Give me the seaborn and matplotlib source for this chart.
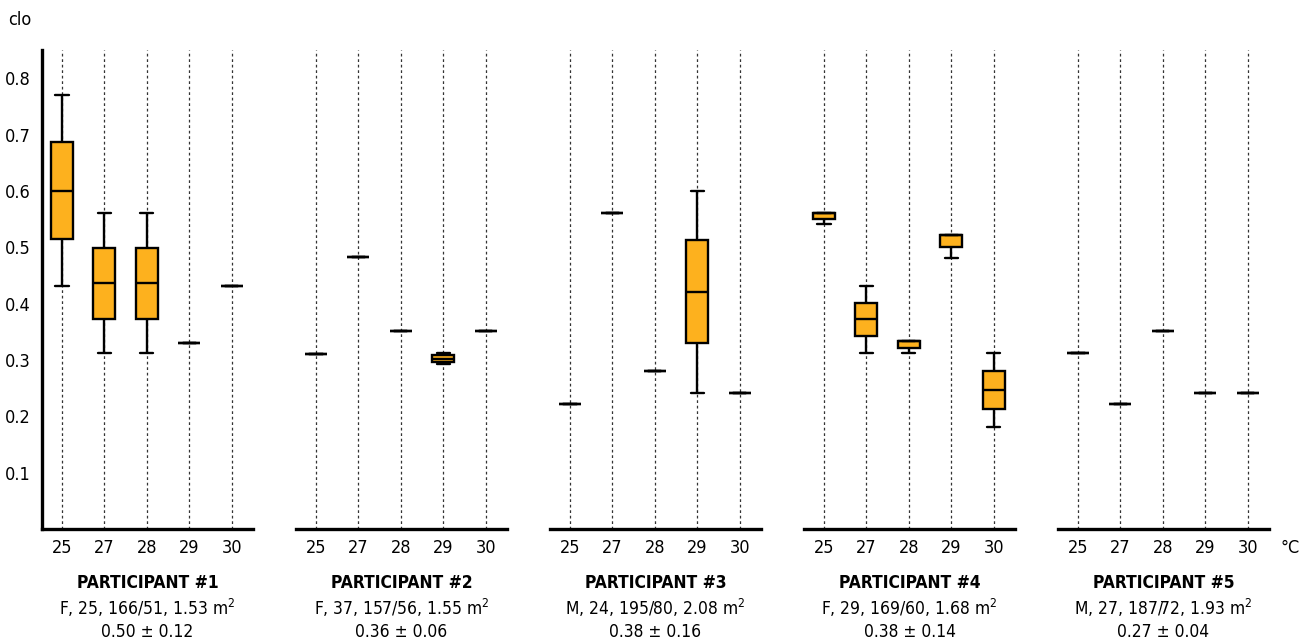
import numpy as np
import pandas as pd
import matplotlib
matplotlib.use("Agg")
import matplotlib.pyplot as plt
import seaborn as sns
from matplotlib import font_manager

# Air temperature categories (°C)
temps = ["25", "27", "28", "29", "30"]

# Clothing insulation (clo) per participant and temperature.
# Each list holds: minimum, lower quartile, median, upper quartile, maximum;
# a single value means only one observation at that temperature.
p1_clo = [[0.431, 0.515, 0.600, 0.686, 0.770],
          [0.312, 0.372, 0.436, 0.499, 0.561],
          [0.312, 0.372, 0.436, 0.499, 0.561],
          [0.330],
          [0.431]]
p2_clo = [[0.311],
          [0.482],
          [0.352],
          [0.293, 0.296, 0.302, 0.308, 0.312],
          [0.352]]
p3_clo = [[0.222],
          [0.561],
          [0.281],
          [0.242, 0.330, 0.421, 0.512, 0.600],
          [0.242]]
p4_clo = [[0.541, 0.550, 0.561, 0.561, 0.561],
          [0.312, 0.342, 0.372, 0.401, 0.431],
          [0.312, 0.321, 0.333, 0.333, 0.333],
          [0.481, 0.501, 0.522, 0.522, 0.522],
          [0.181, 0.213, 0.246, 0.280, 0.312]]
p5_clo = [[0.313],
          [0.222],
          [0.352],
          [0.241],
          [0.241]]

participants = ["PARTICIPANT #1", "PARTICIPANT #2", "PARTICIPANT #3",
                "PARTICIPANT #4", "PARTICIPANT #5"]
profiles = ["F, 25, 166/51, 1.53 m$^2$", "F, 37, 157/56, 1.55 m$^2$",
            "M, 24, 195/80, 2.08 m$^2$", "F, 29, 169/60, 1.68 m$^2$",
            "M, 27, 187/72, 1.93 m$^2$"]
summaries = ["0.50 ± 0.12", "0.36 ± 0.06", "0.38 ± 0.16",
             "0.38 ± 0.14", "0.27 ± 0.04"]
yticks = [0.1, 0.2, 0.3, 0.4, 0.5, 0.6, 0.7, 0.8]

all_clo = [p1_clo, p2_clo, p3_clo, p4_clo, p5_clo]

sns.set_theme(style="white")
plt.rcParams["font.family"] = ["DejaVu Sans"]
plt.rcParams["font.stretch"] = "condensed"
plt.rcParams["text.color"] = "black"
plt.rcParams["xtick.color"] = "black"
plt.rcParams["ytick.color"] = "black"
plt.rcParams["mathtext.fontset"] = "custom"
plt.rcParams["mathtext.rm"] = "DejaVu Sans:stretch=condensed"

cond = font_manager.FontProperties(family="DejaVu Sans", stretch="condensed",
                                   size=13)
cond_text = font_manager.FontProperties(family="DejaVu Sans",
                                        stretch="condensed", size=12.5)
cond_bold = font_manager.FontProperties(family="DejaVu Sans",
                                        stretch="condensed", weight="bold",
                                        size=12.5)

W, H = 1308, 642
fig = plt.figure(figsize=(W / 100, H / 100), dpi=100)

box_color = "#FDB11E"
panel_left0 = 42
panel_step = 254
panel_w = 211
ax_top = 50
ax_bottom = 529

for i, clo in enumerate(all_clo):
    rows = []
    for t, vals in zip(temps, clo):
        for v in vals:
            rows.append({"temp": t, "clo": v})
    df = pd.DataFrame(rows)

    left = panel_left0 + i * panel_step
    ax = fig.add_axes([left / W, 1 - ax_bottom / H, panel_w / W,
                       (ax_bottom - ax_top) / H])
    sns.boxplot(data=df, x="temp", y="clo", order=temps, ax=ax,
                color=box_color, saturation=1, linecolor="black",
                linewidth=1.7, width=0.52, whis=(0, 100),
                showfliers=False, capwidths=0.31, zorder=3)
    # vertical dashed guides at every temperature
    ax.xaxis.grid(True, linestyle=(0, (2.2, 2.2)), color="#333333",
                  linewidth=0.9)
    ax.yaxis.grid(False)
    ax.set_axisbelow(True)
    ax.set_xlim(-0.47, 4.5)
    ax.set_ylim(0, 0.85)
    ax.set_xlabel("")
    ax.set_ylabel("")
    ax.tick_params(axis="x", length=0, pad=7)
    for lab in ax.get_xticklabels():
        lab.set_fontproperties(cond)
    for s in ["top", "right"]:
        ax.spines[s].set_visible(False)
    ax.spines["bottom"].set_linewidth(2.4)
    ax.spines["bottom"].set_color("black")
    if i == 0:
        ax.spines["left"].set_linewidth(2.4)
        ax.spines["left"].set_color("black")
        ax.set_yticks(yticks)
        ax.set_yticklabels([f"{v:.1f}" for v in yticks])
        ax.tick_params(axis="y", length=0, pad=8)
        for lab in ax.get_yticklabels():
            lab.set_fontproperties(cond)
    else:
        ax.spines["left"].set_visible(False)
        ax.set_yticks([])

    cx = (left + panel_w / 2) / W
    fig.text(cx, 1 - 583 / H, participants[i], ha="center", va="center",
             fontproperties=cond_bold)
    fig.text(cx, 1 - 608 / H, profiles[i], ha="center", va="center",
             fontproperties=cond_text)
    fig.text(cx, 1 - 632 / H, summaries[i], ha="center", va="center",
             fontproperties=cond_text)

fig.text(20 / W, 1 - 20 / H, "clo", ha="center", va="center",
         fontproperties=cond)
fig.text(1290 / W, 1 - 548 / H, "°C", ha="center", va="center",
         fontproperties=cond)

fig.savefig("out.png", dpi=100, facecolor="white")
